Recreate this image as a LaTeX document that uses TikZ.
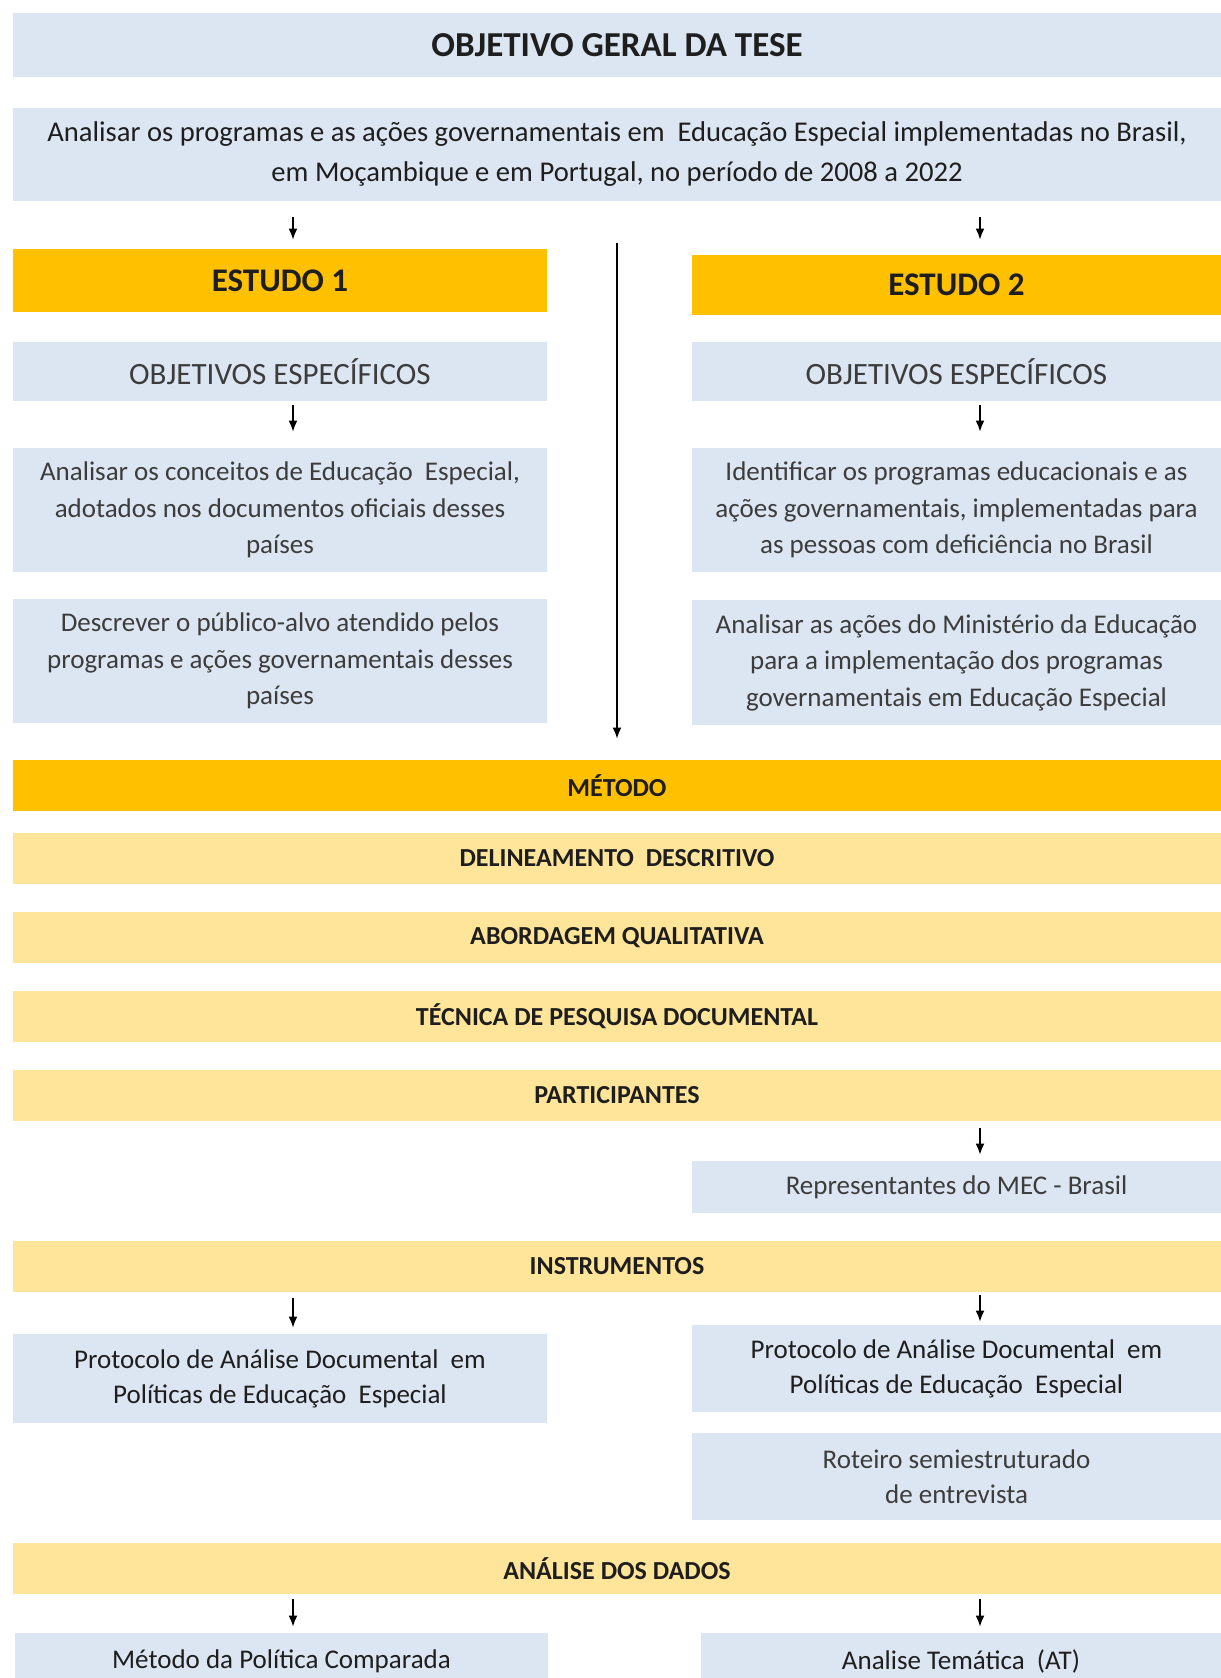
\documentclass[tikz,border=0pt]{standalone}
\usepackage{fontspec}
\setmainfont{Carlito}
\usetikzlibrary{arrows.meta}

\definecolor{azul}{HTML}{DCE6F2}
\definecolor{ouro}{HTML}{FFC000}
\definecolor{areia}{HTML}{FFE59A}
\definecolor{tinta}{HTML}{1E1E1E}
\definecolor{tintaleve}{HTML}{3C3C3C}

\newcommand{\tam}[2]{\fontsize{#1}{#2}\selectfont}

\tikzset{
  caixa/.style={fill=azul,inner sep=0pt,align=center,text=tinta},
  leve/.style={caixa,text=tintaleve,font=\tam{13.5}{18.25}},
  estudo/.style={fill=ouro,inner sep=0pt,text=tinta,font=\tam{16.5}{20}\bfseries},
  faixa/.style={fill=areia,inner sep=0pt,text=tinta,minimum width=604pt,minimum height=25.5pt,font=\tam{13}{16}\bfseries},
  esq/.style={minimum width=267pt},
  dir/.style={minimum width=264.5pt},
  seta/.style={line width=0.65pt,-{Latex[length=5.5pt,width=4.4pt]}}
}

\begin{document}
\begin{tikzpicture}[x=0.5pt,y=-0.5pt]
\fill[white] (0,0) rectangle (1221,1678);
\useasboundingbox (0,0) rectangle (1221,1678);
\clip (0,0) rectangle (1221,1678);

% objetivo geral
\node[caixa,minimum width=604pt,minimum height=32pt,font=\tam{17.5}{20}\bfseries] (titulo) at (617,45) {OBJETIVO GERAL DA TESE};
\node[caixa,minimum width=604pt,minimum height=46.5pt,font=\tam{14.3}{20}] (geral) at (617,154.5)
  {Analisar os programas e as ações governamentais em \ Educação Especial implementadas no Brasil,\\
   em Moçambique e em Portugal, no período de 2008 a 2022};

% estudos
\node[estudo,esq,minimum height=31.5pt] (est1) at (280,280.5) {ESTUDO 1};
\node[estudo,dir,minimum height=30pt] (est2) at (956.5,285) {ESTUDO 2};

\node[leve,esq,minimum height=29.5pt,font=\tam{15.5}{18}] (obj1) at (280,371.5) {OBJETIVOS ESPECÍFICOS};
\node[leve,dir,minimum height=29.5pt,font=\tam{15.5}{18}] (obj2) at (956.5,371.5) {OBJETIVOS ESPECÍFICOS};

\node[leve,esq,minimum height=62pt] (conc) at (280,510)
  {Analisar os conceitos de Educação \ Especial,\\ adotados nos documentos oficiais desses\\ países};
\node[leve,esq,minimum height=62pt] (publ) at (280,661)
  {Descrever o público-alvo atendido pelos\\ programas e ações governamentais desses\\ países};
\node[leve,dir,minimum height=62pt] (iden) at (956.5,510)
  {Identificar os programas educacionais e as\\ ações governamentais, implementadas para\\ as pessoas com deficiência no Brasil};
\node[leve,dir,minimum height=62.5pt] (mini) at (956.5,662.5)
  {Analisar as ações do Ministério da Educação\\ para a implementação dos programas\\ governamentais em Educação Especial};

% metodo
\node[faixa,fill=ouro] (metodo) at (617,785.5) {MÉTODO};
\foreach \nome/\y/\txt in {delin/858.5/DELINEAMENTO~~DESCRITIVO, abord/937.5/ABORDAGEM QUALITATIVA,
    tecn/1016.5/TÉCNICA DE PESQUISA DOCUMENTAL, partic/1095.5/PARTICIPANTES,
    instr/1266.5/INSTRUMENTOS, anal/1568.5/ANÁLISE DOS DADOS}
  \node[faixa] (\nome) at (617,\y) {\txt};

\node[leve,dir,minimum height=26pt] (repr) at (956.5,1187) {Representantes do MEC - Brasil};

\node[caixa,esq,minimum height=44.5pt,font=\tam{13.5}{17.5}] (prot1) at (280,1378.5)
  {Protocolo de Análise Documental \ em\\ Políticas de Educação \ Especial};
\node[caixa,dir,minimum height=43.5pt,font=\tam{13.5}{17.5}] (prot2) at (956.5,1368.5)
  {Protocolo de Análise Documental \ em\\ Políticas de Educação \ Especial};
\node[leve,dir,minimum height=43.5pt,font=\tam{13.5}{17.5}] (rot) at (956.5,1476.5)
  {Roteiro semiestruturado\\ de entrevista};

\node[caixa,minimum width=266.5pt,minimum height=28pt,font=\tam{13.5}{17.5}] (comp) at (281.5,1661) {Método da Política Comparada};
\node[caixa,minimum width=260pt,minimum height=28pt,font=\tam{13.5}{17.5}] (tema) at (961,1661) {Analise Temática \ (AT)};

% setas
\coordinate (xl) at (293,0);
\coordinate (xr) at (980,0);
\coordinate (xm) at (617,243);

\draw[seta,shorten >=10.5pt] (xm) -- (metodo.north -| xm);
\foreach \a/\b/\x/\s/\e in {geral/est1/xl/8/4.5, geral/est2/xr/8/7.5, obj1/conc/xl/2/8, obj2/iden/xr/2/8,
    partic/repr/xr/3.5/3, instr/prot1/xl/3/3, instr/prot2/xr/1.5/1.5, anal/comp/xl/2.5/3, anal/tema/xr/2.5/3}
  \draw[seta,shorten <=\s pt,shorten >=\e pt] (\a.south -| \x) -- (\b.north -| \x);
\end{tikzpicture}
\end{document}
